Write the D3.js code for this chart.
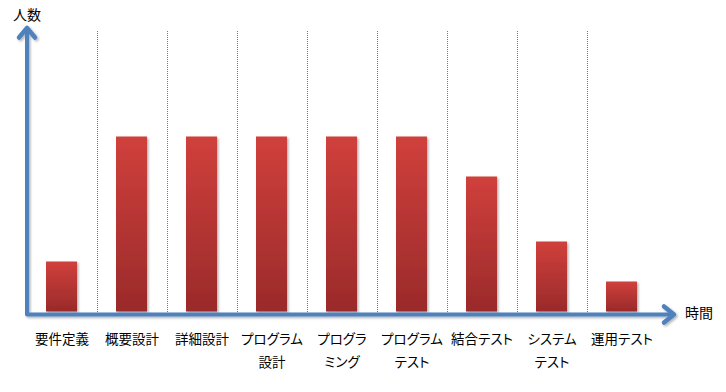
<!DOCTYPE html>
<html>
<head>
<meta charset="utf-8">
<script src="https://cdn.jsdelivr.net/npm/d3@7"></script>
<style>
  html, body { margin: 0; padding: 0; background: #fff; }
  svg { display: block; font-family: "Noto Sans CJK JP", "Noto Sans", sans-serif; }
  .lbl text { font-feature-settings: "palt" 1; }
</style>
</head>
<body>
<svg id="chart" width="726" height="392"></svg>
<script>
const categories = ["要件定義", "概要設計", "詳細設計", "プログラム\n設計", "プログラ\nミング", "プログラム\nテスト", "結合テスト", "システム\nテスト", "運用テスト"];
const values = [10, 35, 35, 35, 35, 35, 27, 14, 6];
const yMax = 56;
const yAxisTitle = "人数";
const xAxisTitle = "時間";

const svg = d3.select("#chart");
const defs = svg.append("defs");

const grad = defs.append("linearGradient").attr("id", "barGrad")
  .attr("x1", 0).attr("y1", 0).attr("x2", 0).attr("y2", 1);
grad.append("stop").attr("offset", "0%").attr("stop-color", "#d0403c");
grad.append("stop").attr("offset", "100%").attr("stop-color", "#9a2a2a");

const sh = defs.append("filter").attr("id", "shadow")
  .attr("x", "-20%").attr("y", "-20%").attr("width", "150%").attr("height", "150%");
sh.append("feDropShadow").attr("dx", 1.5).attr("dy", 1.5).attr("stdDeviation", 1.2)
  .attr("flood-color", "#000").attr("flood-opacity", 0.3);

const x = d3.scaleBand().domain(categories).range([27, 657]).padding(0);
const y = d3.scaleLinear().domain([0, yMax]).range([311.5, 31.5]);
const barW = x.bandwidth() * 0.443;
const axisColor = "#4f81bd";

// dotted separators
svg.append("g").selectAll("line")
  .data(categories.slice(0, -1))
  .join("line")
  .attr("x1", d => Math.round(x(d) + x.bandwidth()) + 0.5)
  .attr("x2", d => Math.round(x(d) + x.bandwidth()) + 0.5)
  .attr("y1", 31)
  .attr("y2", 313)
  .attr("stroke", axisColor)
  .attr("stroke-width", 1)
  .attr("stroke-dasharray", "1,1");

// bars
svg.append("g").selectAll("rect")
  .data(categories)
  .join("rect")
  .attr("x", (d) => Math.round(x(d) + x.bandwidth() / 2 - barW / 2))
  .attr("width", barW)
  .attr("y", (d, i) => y(values[i]))
  .attr("height", (d, i) => y(0) - y(values[i]))
  .attr("fill", "url(#barGrad)")
  .attr("filter", "url(#shadow)");

// axes
const x0 = x.range()[0];
const yBase = 314.5;
const axes = svg.append("g").attr("filter", "url(#shadow)")
  .attr("stroke", axisColor).attr("fill", "none")
  .attr("stroke-linecap", "round").attr("stroke-linejoin", "round");
axes.append("path")
  .attr("d", `M${x0},${yBase} L${x0},28.5 M${x0},${yBase} L673,${yBase}`)
  .attr("stroke-width", 4);
axes.append("path")
  .attr("d", `M${x0 - 8},37.5 L${x0},28 L${x0 + 8},37.5`)
  .attr("stroke-width", 4.5);
axes.append("path")
  .attr("d", `M664,${yBase - 8} L674,${yBase} L664,${yBase + 8}`)
  .attr("stroke-width", 4.5);

// axis titles
svg.append("text").attr("x", 13).attr("y", 15).attr("dy", "0.35em")
  .attr("font-size", 14).attr("fill", "#000").text(yAxisTitle);
svg.append("text").attr("x", 685).attr("y", 313).attr("dy", "0.35em")
  .attr("font-size", 14).attr("fill", "#000").text(xAxisTitle);

// category labels
const lbl = svg.append("g").attr("class", "lbl").attr("font-size", 13.5).attr("fill", "#000").attr("text-anchor", "middle");
lbl.selectAll("text")
  .data(categories)
  .join("text")
  .attr("x", d => x(d) + x.bandwidth() / 2)
  .attr("y", 339)
  .each(function(d) {
    const lines = d.split("\n");
    d3.select(this).selectAll("tspan").data(lines).join("tspan")
      .attr("x", x(d) + x.bandwidth() / 2)
      .attr("dy", (l, i) => i === 0 ? "0.35em" : 23)
      .text(l => l);
  });
</script>
</body>
</html>
